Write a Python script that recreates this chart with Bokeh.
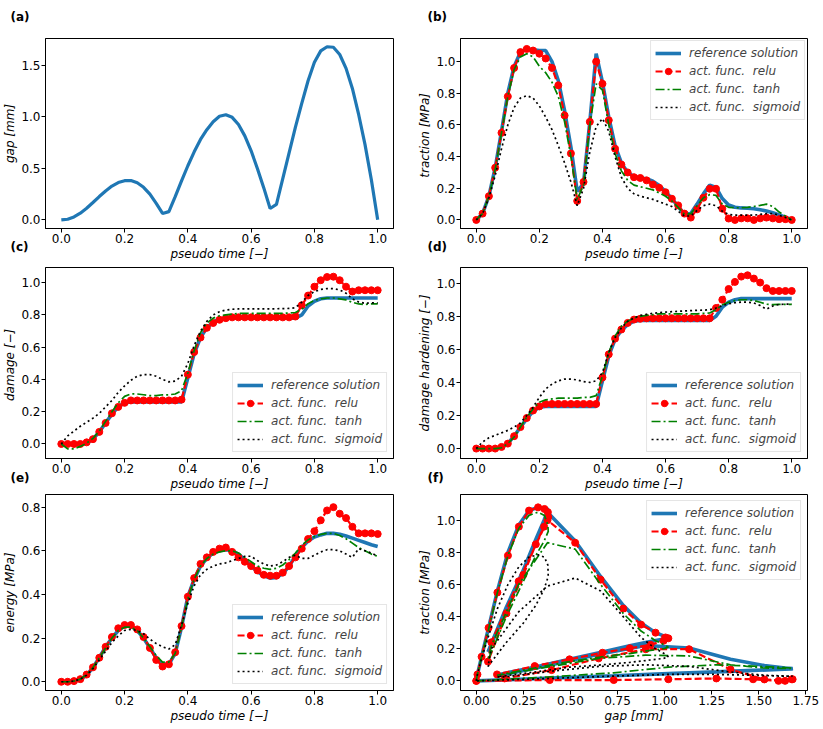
from bokeh.plotting import figure
from bokeh.models import Range1d, Label, Legend, LegendItem, FixedTicker, PrintfTickFormatter
from bokeh.layouts import column, row
from bokeh.embed import file_html
from bokeh.resources import INLINE

# ---------------- data ----------------
time = [0.00, 0.02, 0.04, 0.06, 0.08, 0.10, 0.12, 0.14, 0.16, 0.18, 0.20,
        0.22, 0.24, 0.26, 0.28, 0.30, 0.32, 0.34, 0.36, 0.38, 0.40,
        0.42, 0.44, 0.46, 0.48, 0.50, 0.52, 0.54, 0.56, 0.58, 0.60,
        0.62, 0.64, 0.66, 0.68, 0.70, 0.72, 0.74, 0.76, 0.78, 0.80,
        0.82, 0.84, 0.86, 0.88, 0.90, 0.92, 0.94, 0.96, 0.98, 1.00]

gap = [0.0, 0.006, 0.028, 0.065, 0.112, 0.168, 0.226, 0.28, 0.328, 0.362, 0.38,
       0.382, 0.36, 0.316, 0.25, 0.16, 0.062, 0.08, 0.225, 0.378, 0.525,
       0.66, 0.78, 0.875, 0.952, 1.005, 1.02, 0.995, 0.925, 0.815, 0.67,
       0.495, 0.31, 0.11, 0.15, 0.4, 0.65, 0.9, 1.13, 1.35, 1.53,
       1.64, 1.68, 1.675, 1.605, 1.47, 1.275, 1.02, 0.73, 0.39, 0.0]

traction_ref = [0.0, 0.04, 0.15, 0.33, 0.56, 0.80, 0.97, 1.06, 1.08, 1.075, 1.07,
                1.07, 1.0, 0.88, 0.69, 0.46, 0.18, 0.23, 0.62, 1.05, 0.87,
                0.65, 0.47, 0.36, 0.30, 0.275, 0.265, 0.26, 0.245, 0.218, 0.18,
                0.135, 0.085, 0.037, 0.04, 0.1, 0.165, 0.22, 0.205, 0.135, 0.095,
                0.08, 0.076, 0.074, 0.071, 0.065, 0.056, 0.045, 0.032, 0.017, 0.0]
traction_relu = [0.0, 0.04, 0.15, 0.33, 0.55, 0.78, 0.96, 1.06, 1.08, 1.07, 1.05,
                 1.02, 0.96, 0.85, 0.66, 0.42, 0.12, 0.24, 0.62, 1.0, 0.86,
                 0.63, 0.45, 0.35, 0.3, 0.27, 0.265, 0.25, 0.224, 0.203, 0.175,
                 0.134, 0.092, 0.04, 0.015, 0.067, 0.14, 0.197, 0.197, 0.071, 0.009,
                 0.0, 0.01, 0.01, 0.0, 0.01, 0.015, 0.01, 0.005, 0.005, 0.0]
traction_tanh = [0.0, 0.04, 0.15, 0.32, 0.55, 0.78, 0.95, 1.03, 1.05, 1.03, 0.97,
                 0.93, 0.87, 0.78, 0.62, 0.40, 0.13, 0.22, 0.6, 0.86, 0.82,
                 0.6, 0.42, 0.31, 0.25, 0.22, 0.21, 0.2, 0.19, 0.17, 0.15,
                 0.12, 0.08, 0.035, 0.04, 0.09, 0.14, 0.16, 0.155, 0.1, 0.08,
                 0.077, 0.077, 0.08, 0.085, 0.092, 0.1, 0.085, 0.05, 0.025, 0.0]
traction_sigmoid = [0.0, 0.04, 0.14, 0.28, 0.45, 0.6, 0.71, 0.77, 0.785, 0.77, 0.72,
                    0.65, 0.57, 0.47, 0.36, 0.24, 0.09, 0.2, 0.43, 0.59, 0.64,
                    0.56, 0.40, 0.27, 0.2, 0.165, 0.15, 0.14, 0.13, 0.115, 0.1,
                    0.085, 0.055, 0.025, 0.025, 0.06, 0.09, 0.1, 0.09, 0.055, 0.035,
                    0.03, 0.03, 0.03, 0.03, 0.035, 0.04, 0.04, 0.03, 0.015, 0.0]

damage_ref = [0.0, 0.0, 0.0, 0.0, 0.005, 0.03, 0.075, 0.13, 0.185, 0.23, 0.255,
              0.26, 0.26, 0.26, 0.26, 0.26, 0.26, 0.26, 0.26, 0.26, 0.41,
              0.56, 0.66, 0.72, 0.755, 0.775, 0.78, 0.78, 0.78, 0.78, 0.78,
              0.78, 0.78, 0.78, 0.78, 0.78, 0.78, 0.78, 0.80, 0.855, 0.885,
              0.90, 0.905, 0.905, 0.905, 0.905, 0.905, 0.905, 0.905, 0.905, 0.905]
damage_relu = [0.0, 0.0, 0.0, 0.0, 0.01, 0.03, 0.075, 0.13, 0.19, 0.23, 0.255,
               0.27, 0.27, 0.27, 0.27, 0.27, 0.27, 0.27, 0.27, 0.275, 0.43,
               0.57, 0.66, 0.72, 0.75, 0.77, 0.78, 0.785, 0.785, 0.785, 0.785,
               0.785, 0.785, 0.785, 0.785, 0.785, 0.785, 0.79, 0.86, 0.92, 0.975,
               1.015, 1.035, 1.037, 1.015, 0.975, 0.945, 0.953, 0.953, 0.953, 0.953]
damage_tanh = [0.0, -0.03, -0.03, -0.015, 0.005, 0.035, 0.08, 0.14, 0.2, 0.255, 0.295,
               0.31, 0.31, 0.305, 0.3, 0.3, 0.305, 0.305, 0.31, 0.33, 0.44,
               0.58, 0.69, 0.75, 0.78, 0.795, 0.80, 0.805, 0.81, 0.81, 0.81,
               0.81, 0.81, 0.81, 0.81, 0.81, 0.812, 0.815, 0.835, 0.87, 0.89,
               0.90, 0.905, 0.905, 0.90, 0.893, 0.878, 0.868, 0.865, 0.868, 0.868]
damage_sigmoid = [0.0, 0.05, 0.08, 0.11, 0.135, 0.16, 0.19, 0.23, 0.27, 0.32, 0.36,
                  0.395, 0.42, 0.43, 0.43, 0.42, 0.40, 0.385, 0.39, 0.42, 0.5,
                  0.61, 0.7, 0.76, 0.8, 0.82, 0.83, 0.835, 0.837, 0.838, 0.838,
                  0.838, 0.838, 0.838, 0.838, 0.839, 0.84, 0.845, 0.88, 0.92, 0.945,
                  0.958, 0.963, 0.963, 0.955, 0.935, 0.9, 0.88, 0.872, 0.875, 0.875]

hardening_ref = [0.0, 0.0, 0.0, 0.0, 0.005, 0.03, 0.075, 0.13, 0.18, 0.225, 0.25,
                 0.255, 0.255, 0.255, 0.255, 0.255, 0.255, 0.255, 0.255, 0.255, 0.41,
                 0.56, 0.66, 0.715, 0.75, 0.77, 0.775, 0.775, 0.775, 0.775, 0.775,
                 0.775, 0.775, 0.775, 0.775, 0.775, 0.775, 0.775, 0.80, 0.855, 0.885,
                 0.90, 0.907, 0.907, 0.907, 0.907, 0.907, 0.907, 0.907, 0.907, 0.907]
hardening_relu = [0.0, 0.0, 0.0, 0.0, 0.01, 0.03, 0.075, 0.13, 0.185, 0.23, 0.255,
                  0.27, 0.27, 0.27, 0.27, 0.27, 0.27, 0.27, 0.27, 0.27, 0.43,
                  0.57, 0.665, 0.72, 0.76, 0.78, 0.785, 0.788, 0.788, 0.788, 0.788,
                  0.788, 0.788, 0.788, 0.788, 0.788, 0.788, 0.788, 0.85, 0.90, 0.965,
                  1.008, 1.04, 1.048, 1.028, 1.004, 0.97, 0.953, 0.953, 0.953, 0.953]
hardening_tanh = [0.0, 0.0, 0.0, 0.0, 0.005, 0.03, 0.07, 0.13, 0.19, 0.24, 0.28,
                  0.295, 0.30, 0.305, 0.305, 0.305, 0.305, 0.31, 0.31, 0.32, 0.44,
                  0.58, 0.68, 0.74, 0.77, 0.79, 0.80, 0.805, 0.81, 0.815, 0.815,
                  0.815, 0.815, 0.815, 0.815, 0.815, 0.818, 0.82, 0.84, 0.87, 0.885,
                  0.895, 0.90, 0.90, 0.895, 0.885, 0.873, 0.87, 0.872, 0.872, 0.872]
hardening_sigmoid = [0.0, 0.04, 0.065, 0.08, 0.095, 0.11, 0.13, 0.155, 0.2, 0.25, 0.31,
                     0.36, 0.39, 0.41, 0.42, 0.42, 0.415, 0.405, 0.40, 0.41, 0.46,
                     0.58, 0.67, 0.73, 0.77, 0.79, 0.805, 0.812, 0.818, 0.822, 0.825,
                     0.828, 0.83, 0.832, 0.834, 0.836, 0.837, 0.84, 0.85, 0.865, 0.875,
                     0.882, 0.886, 0.886, 0.88, 0.865, 0.843, 0.862, 0.872, 0.873, 0.873]

energy_ref = [0.0, 0.0, 0.002, 0.01, 0.03, 0.065, 0.11, 0.16, 0.2, 0.235, 0.255,
              0.255, 0.235, 0.2, 0.155, 0.11, 0.08, 0.08, 0.13, 0.25, 0.39,
              0.47, 0.53, 0.565, 0.59, 0.6, 0.605, 0.6, 0.585, 0.56, 0.53,
              0.505, 0.485, 0.475, 0.478, 0.495, 0.53, 0.575, 0.615, 0.645, 0.663,
              0.673, 0.68, 0.68, 0.676, 0.668, 0.658, 0.648, 0.638, 0.628, 0.62]
energy_relu = [0.0, 0.0, 0.003, 0.012, 0.033, 0.066, 0.11, 0.16, 0.205, 0.245, 0.26,
               0.26, 0.24, 0.205, 0.155, 0.1, 0.07, 0.08, 0.135, 0.255, 0.39,
               0.475, 0.54, 0.57, 0.595, 0.61, 0.615, 0.595, 0.57, 0.55, 0.53,
               0.51, 0.49, 0.486, 0.486, 0.50, 0.53, 0.57, 0.61, 0.654, 0.69,
               0.74, 0.785, 0.80, 0.77, 0.75, 0.71, 0.68, 0.68, 0.68, 0.677]
energy_tanh = [0.0, 0.0, 0.003, 0.012, 0.033, 0.065, 0.11, 0.155, 0.2, 0.235, 0.25,
               0.25, 0.235, 0.2, 0.16, 0.12, 0.09, 0.09, 0.13, 0.25, 0.38,
               0.47, 0.53, 0.565, 0.585, 0.595, 0.6, 0.6, 0.59, 0.57, 0.55,
               0.53, 0.52, 0.515, 0.52, 0.535, 0.56, 0.59, 0.625, 0.65, 0.665,
               0.675, 0.68, 0.68, 0.67, 0.655, 0.635, 0.615, 0.6, 0.585, 0.575]
energy_sigmoid = [0.0, 0.0, 0.003, 0.012, 0.03, 0.06, 0.1, 0.14, 0.18, 0.21, 0.235,
                  0.24, 0.235, 0.22, 0.195, 0.175, 0.16, 0.15, 0.17, 0.26, 0.36,
                  0.44, 0.49, 0.515, 0.53, 0.54, 0.545, 0.555, 0.565, 0.575, 0.575,
                  0.555, 0.54, 0.53, 0.535, 0.55, 0.57, 0.58, 0.565, 0.565, 0.58,
                  0.595, 0.605, 0.605, 0.6, 0.585, 0.57, 0.61, 0.6, 0.59, 0.575]

time_ticks = [0.0, 0.2, 0.4, 0.6, 0.8, 1.0]
gap_ticks = [0.0, 0.25, 0.5, 0.75, 1.0, 1.25, 1.5, 1.75]
legend_labels = ["reference solution", "act. func.  relu", "act. func.  tanh", "act. func.  sigmoid"]

# ---------------- styling ----------------
FONT = "DejaVu Sans"
REF_C = "#1f77b4"
LW, RW = 415, 408
H1, H2, H3 = 263, 230, 232


def base(w, h, xr, yr, xt, yt, xfmt, yfmt, xlabel, ylabel, mb):
    p = figure(width=w, height=h, x_range=Range1d(*xr), y_range=Range1d(*yr),
               output_backend="svg", toolbar_location=None,
               min_border_left=mb[0], min_border_right=mb[1],
               min_border_top=mb[2], min_border_bottom=mb[3])
    p.xgrid.visible = False
    p.ygrid.visible = False
    p.outline_line_color = "black"
    p.outline_line_alpha = 1.0
    p.outline_line_width = 1
    p.xaxis.ticker = FixedTicker(ticks=xt)
    p.yaxis.ticker = FixedTicker(ticks=yt)
    p.xaxis.formatter = PrintfTickFormatter(format=xfmt)
    p.yaxis.formatter = PrintfTickFormatter(format=yfmt)
    p.xaxis.axis_label = xlabel
    p.yaxis.axis_label = ylabel
    for ax in (p.xaxis, p.yaxis):
        ax.axis_line_color = "black"
        ax.major_tick_line_color = "black"
        ax.major_tick_out = 4
        ax.major_tick_in = 0
        ax.minor_tick_line_color = None
        ax.major_label_text_font = FONT
        ax.major_label_text_font_size = "12px"
        ax.major_label_text_color = "black"
        ax.major_label_standoff = 1
        ax.axis_label_text_font = FONT
        ax.axis_label_text_font_size = "12px"
        ax.axis_label_text_font_style = "italic"
        ax.axis_label_text_color = "black"
        ax.axis_label_standoff = 1
    return p


def tag(p, text, xr, yr, top, dy, dx, side):
    p.add_layout(Label(x=xr[0], y=(yr[1] if top else yr[0]), x_offset=dx, y_offset=dy,
                       text=text, text_font=FONT, text_font_style="bold",
                       text_font_size="12px", text_baseline="top", text_align="left",
                       text_color="black"), side)


def series(p, x, yref, yrelu, ytanh, ysig, loc, margin):
    r0 = p.line(x, yref, line_color=REF_C, line_width=3.6)
    r1 = p.line(x, yrelu, line_color="red", line_width=2.2, line_dash="7 3")
    r1m = p.scatter(x, yrelu, size=7, fill_color="red", line_color="red")
    r2 = p.line(x, ytanh, line_color="green", line_width=1.7, line_dash="9 3 2 3")
    r3 = p.line(x, ysig, line_color="black", line_width=1.7, line_dash="2 3")
    items = [LegendItem(label=legend_labels[0], renderers=[r0]),
             LegendItem(label=legend_labels[1], renderers=[r1, r1m]),
             LegendItem(label=legend_labels[2], renderers=[r2]),
             LegendItem(label=legend_labels[3], renderers=[r3])]
    lg = Legend(items=items, location=loc)
    lg.margin = margin
    lg.padding = 4
    lg.spacing = 2
    lg.glyph_width = 26
    lg.glyph_height = 16
    lg.label_height = 16
    lg.label_standoff = 8
    lg.label_text_font = FONT
    lg.label_text_font_size = "12px"
    lg.label_text_font_style = "italic"
    lg.border_line_color = "#cccccc"
    lg.border_line_width = 1
    lg.background_fill_alpha = 0.85
    p.add_layout(lg)


tx = (-0.05, 1.05)
LM, LR = (45, 22), (44, 16)

# (a)
ya = (-0.084, 1.76)
pa = base(LW, H1, tx, ya, time_ticks, [0.0, 0.5, 1.0, 1.5], "%.1f", "%.1f",
          "pseudo time [\u2212]", "gap [mm]", (LM[0], LM[1], 38, 34))
pa.line(time, gap, line_color=REF_C, line_width=3.2)
tag(pa, "(a)", tx, ya, True, 29, -35, "above")
tag(pa, "(c)", tx, ya, False, -11, -35, "above")

# (b)
yb = (-0.054, 1.146)
pb = base(RW, H1, tx, yb, time_ticks, [0.0, 0.2, 0.4, 0.6, 0.8, 1.0], "%.1f", "%.1f",
          "pseudo time [\u2212]", "traction  [MPa]", (LR[0], LR[1], 38, 34))
series(pb, time, traction_ref, traction_relu, traction_tanh, traction_sigmoid, "top_right", 2)
tag(pb, "(b)", tx, yb, True, 29, -33, "above")
tag(pb, "(d)", tx, yb, False, -11, -33, "above")

# (c)
yc = (-0.09, 1.094)
pc = base(LW, H2, tx, yc, time_ticks, [0.0, 0.2, 0.4, 0.6, 0.8, 1.0], "%.1f", "%.1f",
          "pseudo time [\u2212]", "damage  [\u2212]", (LM[0], LM[1], 4, 34))
series(pc, time, damage_ref, damage_relu, damage_tanh, damage_sigmoid, "bottom_right", 6)
tag(pc, "(e)", tx, yc, False, -12, -35, "right")

# (d)
yd = (-0.06, 1.095)
pd = base(RW, H2, tx, yd, time_ticks, [0.0, 0.2, 0.4, 0.6, 0.8, 1.0], "%.1f", "%.1f",
          "pseudo time [\u2212]", "damage hardening [\u2212]", (LR[0], LR[1], 4, 34))
series(pd, time, hardening_ref, hardening_relu, hardening_tanh, hardening_sigmoid, "bottom_right", 6)
tag(pd, "(f)", tx, yd, False, -12, -33, "right")

# (e)
ye = (-0.04, 0.858)
pe = base(LW, H3, tx, ye, time_ticks, [0.0, 0.2, 0.4, 0.6, 0.8], "%.1f", "%.1f",
          "pseudo time [\u2212]", "energy [MPa]", (LM[0], LM[1], 1, 34))
series(pe, time, energy_ref, energy_relu, energy_tanh, energy_sigmoid, "bottom_right", 6)

# (f)
xf = (-0.084, 1.759)
yf = (-0.06, 1.16)
pf = base(RW, H3, xf, yf, gap_ticks, [0.0, 0.2, 0.4, 0.6, 0.8, 1.0], "%.2f", "%.1f",
          "gap [mm]", "traction [MPa]", (LR[0], LR[1], 1, 34))
series(pf, gap, traction_ref, traction_relu, traction_tanh, traction_sigmoid, "top_right", 6)

layout = column(row(pa, pb), row(pc, pd), row(pe, pf))
open("out.html", "w").write(file_html(layout, INLINE))
